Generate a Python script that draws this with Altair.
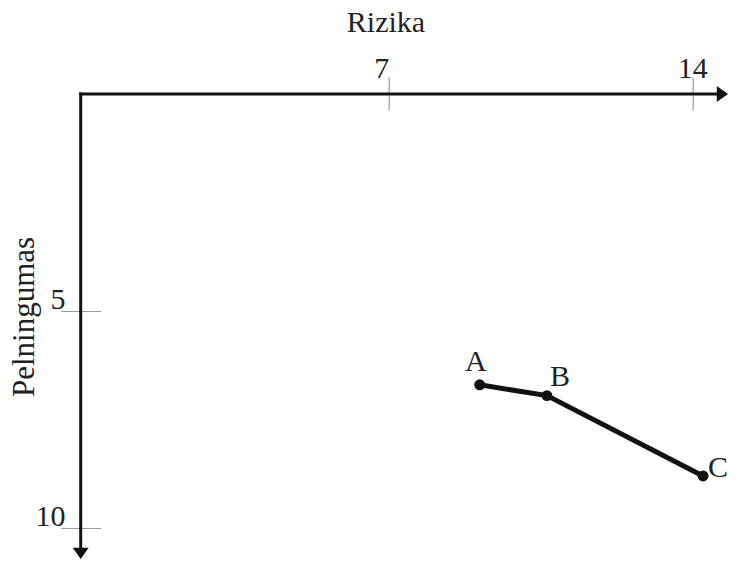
import altair as alt
import pandas as pd

# ---- data ----
point_names = ["A", "B", "C"]
rizika = [9.1, 10.65, 14.25]          # x (Rizika)
pelningumas = [6.7, 6.95, 8.8]        # y (Pelningumas), axis points downward
x_tick_values = [7, 14]
y_tick_values = [5, 10]
x_title = "Rizika"
y_title = "Pelningumas"

# ---- layout / style ----
PX_X = 43.37
PX_Y = 43.4
PLOT_W, PLOT_H = 647.3, 465
X_MIN = -0.1
X_MAX = X_MIN + PLOT_W / PX_X
Y_MIN = 0.0
Y_MAX = PLOT_H / PX_Y
FONT = "Liberation Serif"
INK = "#111111"
TXT = "#222222"
FS = 30

df = pd.DataFrame({"name": point_names, "x": rizika, "y": pelningumas})

xs = alt.Scale(domain=[X_MIN, X_MAX], nice=False, zero=False)
ys = alt.Scale(domain=[Y_MIN, Y_MAX], nice=False, zero=False, reverse=True)

x_axis = alt.Axis(
    orient="top", values=x_tick_values, offset=-16, tickSize=33, domain=False, grid=False,
    tickColor="#9a9a9a", tickWidth=1.2, labelFont=FONT, labelFontSize=FS, labelColor=TXT,
    labelBaseline="alphabetic", labelPadding=0, labelFlush=False, labelOverlap=False,
    labelAlign={"condition": {"test": "datum.value === 7", "value": "right"}, "value": "center"},
    title=x_title, titleFont=FONT, titleFontSize=FS, titleFontWeight="normal", titleColor=TXT,
    titleX=304.8, titleY=-78.3, titleBaseline="alphabetic", titleAlign="center", titleAngle=0,
)
y_axis = alt.Axis(
    orient="left", values=y_tick_values, offset=-20, tickSize=40, domain=False, grid=False,
    tickColor="#9a9a9a", tickWidth=1.2, labelFont=FONT, labelFontSize=FS, labelColor=TXT,
    labelAlign="right", labelBaseline="alphabetic", labelPadding=-4.3, labelOffset=-2.5,
    labelFlush=False, labelOverlap=False,
    title=y_title, titleFont=FONT, titleFontSize=31, titleFontWeight="normal", titleColor=TXT,
    titleX=-67.7, titleY=222.5, titleBaseline="alphabetic", titleAlign="center", titleAngle=270,
)

X = alt.X("x:Q", scale=xs, axis=x_axis, title=x_title)
Y = alt.Y("y:Q", scale=ys, axis=y_axis, title=y_title)

ax_len_x = 5 / PX_X
ax_len_y = 5 / PX_Y
axes_df = pd.DataFrame({
    "x": [X_MIN, X_MIN], "x2": [X_MAX - ax_len_x, X_MIN],
    "y": [Y_MIN, Y_MIN], "y2": [Y_MIN, Y_MAX - ax_len_y],
})
arrow_df = pd.DataFrame({
    "x": [X_MAX, X_MIN], "y": [Y_MIN, Y_MAX],
    "shape": ["M0,0 L-1.4,-1 L-1.4,1 Z", "M0,0 L-1,-1.4 L1,-1.4 Z"],
})

axis_rules = alt.Chart(axes_df).mark_rule(color=INK, strokeWidth=3, strokeCap="square").encode(
    x=X, x2="x2:Q", y=Y, y2="y2:Q",
)
arrows = alt.Chart(arrow_df).mark_point(filled=True, size=256, color=INK, opacity=1, strokeWidth=0).encode(
    x=X, y=Y, shape=alt.Shape("shape:N", scale=None, legend=None),
)
line = alt.Chart(df).mark_line(color=INK, strokeWidth=5).encode(x=X, y=Y)
dots = alt.Chart(df).mark_circle(size=120, color=INK, opacity=1).encode(x=X, y=Y)

label_offsets = {"A": (-4, -14), "B": (13, -10), "C": (15, 1)}
labels = []
for nm, (ddx, ddy) in label_offsets.items():
    labels.append(
        alt.Chart(df).transform_filter(alt.datum.name == nm).mark_text(
            font=FONT, fontSize=FS, color=TXT, align="center", baseline="alphabetic", dx=ddx, dy=ddy
        ).encode(x=X, y=Y, text="name:N")
    )

chart = alt.layer(axis_rules, line, dots, arrows, *labels).properties(
    width=PLOT_W, height=PLOT_H,
    padding={"left": 72.7, "top": 86, "right": 0, "bottom": 0},
    autosize="none",
    background="white",
).configure_view(stroke=None)

chart.save("out.html", embed_options={"renderer": "svg", "actions": False})
